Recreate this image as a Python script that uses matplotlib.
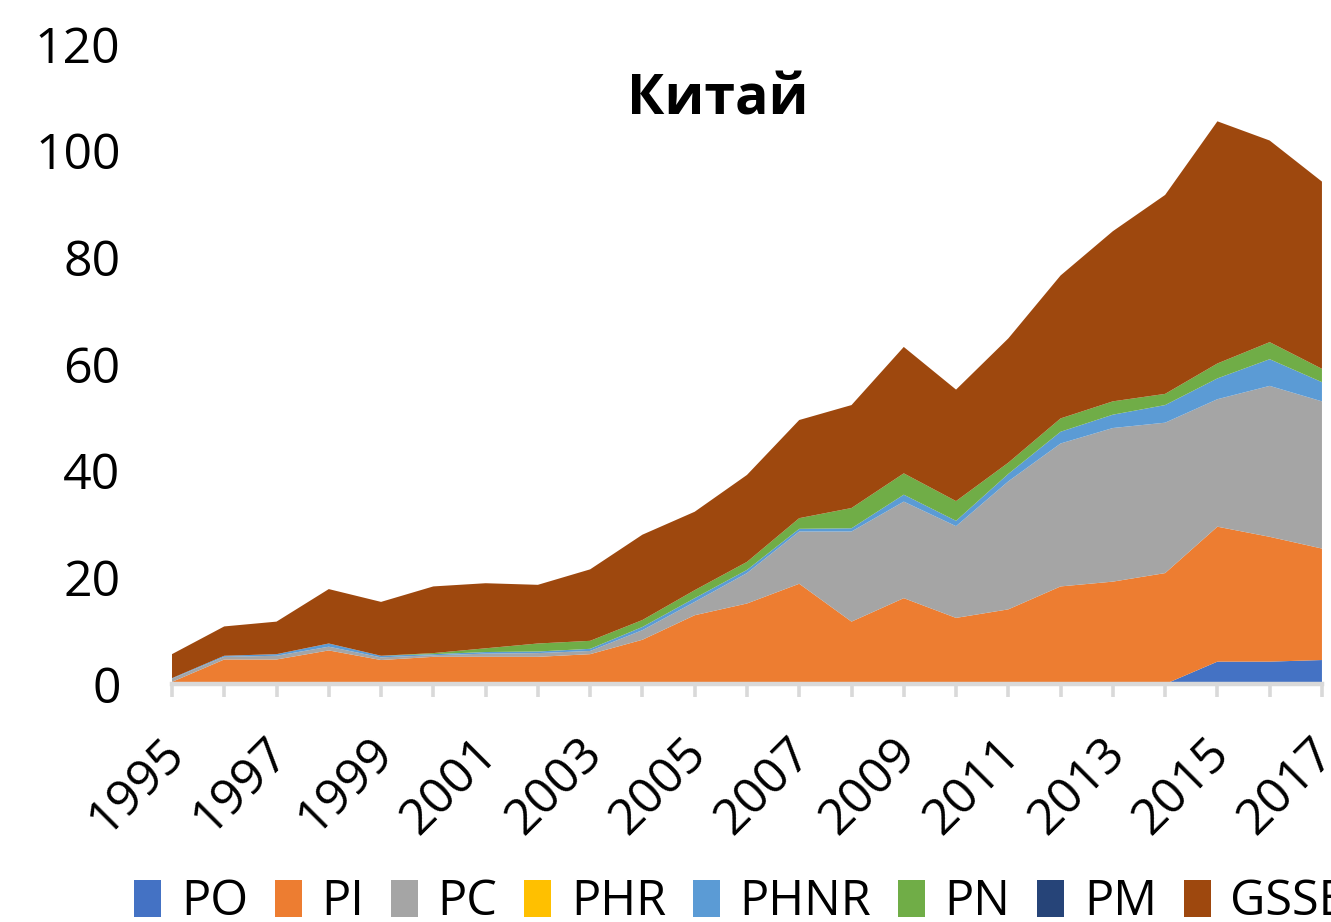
import matplotlib

matplotlib.use("Agg")
import matplotlib.pyplot as plt
import matplotlib.transforms as mtransforms
import numpy as np

plt.rcParams["font.family"] = ["Open Sans", "DejaVu Sans"]

YEARS = list(range(1995, 2018))
PO = [0, 0, 0, 0, 0, 0, 0, 0, 0, 0, 0, 0, 0, 0, 0, 0, 0, 0, 0, 0, 4.2, 4.2, 4.5]
PI = [0.4, 4.6, 4.6, 6.3, 4.5, 5.1, 5.1, 5.1, 5.6, 8.3, 12.9, 15.1, 18.8, 11.7,
      16.1, 12.4, 14.0, 18.3, 19.2, 20.8, 25.3, 23.4, 20.9]
PC = [0.6, 0.5, 0.7, 0.7, 0.5, 0.3, 0.6, 0.7, 0.6, 1.8, 2.5, 5.7, 9.8, 16.9,
      18.1, 17.2, 24.0, 26.8, 28.8, 28.2, 23.9, 28.3, 27.6]
PHR = [0] * 23
PHNR = [0.1, 0.2, 0.3, 0.6, 0.3, 0.2, 0.3, 0.3, 0.4, 0.6, 0.7, 0.6, 0.5, 0.6,
        1.3, 1.0, 1.4, 2.2, 2.5, 3.3, 3.9, 5.0, 3.6]
PN = [0, 0, 0, 0, 0, 0.2, 0.7, 1.5, 1.5, 1.3, 1.5, 1.5, 2.0, 3.8, 4.0, 3.7,
      2.1, 2.5, 2.5, 2.1, 2.8, 3.2, 2.5]
PM = [0] * 23
GSSE = [4.5, 5.5, 6.1, 10.2, 10.1, 12.5, 12.2, 11.0, 13.4, 16.0, 14.7, 16.3,
        18.4, 19.3, 23.7, 20.9, 23.3, 26.8, 31.9, 37.3, 45.4, 37.8, 35.1]

LABELS = ["PO", "PI", "PC", "PHR", "PHNR", "PN", "PM", "GSSE"]
COLORS = ["#4472C4", "#ED7D31", "#A5A5A5", "#FFC000", "#5B9BD5", "#70AD47",
          "#264478", "#9E480E"]

fig = plt.figure(figsize=(13.31, 9.22), dpi=100)
ax = fig.add_axes([0.1292, 0.2581, 0.9932 - 0.1292, 0.9523 - 0.2581])

ax.stackplot(YEARS, PO, PI, PC, PHR, PHNR, PN, PM, GSSE,
             colors=COLORS, labels=LABELS, linewidth=0)

ax.set_xlim(1995, 2017)
ax.set_ylim(0, 120)
ax.set_yticks(np.arange(0, 121, 20))
ax.tick_params(axis="y", length=0, pad=37, labelsize=36)

# every year gets a tick, only every second one a label
ax.set_xticks(YEARS)
ax.set_xticklabels([str(y) if (y - 1995) % 2 == 0 else "" for y in YEARS])
ax.tick_params(axis="x", length=9.5, width=2.6, color="#D9D9D9",
               labelsize=36, pad=35, direction="out")
shift = mtransforms.ScaledTranslation(5 / 100, 0, fig.dpi_scale_trans)
for lab in ax.get_xticklabels():
    lab.set_rotation(45)
    lab.set_ha("right")
    lab.set_va("center")
    lab.set_rotation_mode("anchor")
    lab.set_transform(lab.get_transform() + shift)

for s in ["top", "right", "left"]:
    ax.spines[s].set_visible(False)
ax.spines["bottom"].set_color("#D9D9D9")
ax.spines["bottom"].set_linewidth(3.2)
ax.spines["bottom"].set_zorder(5)

fig.text(0.5394, 0.8915, "Китай", ha="center", va="center",
         fontsize=40, fontweight="bold")

handles, labels = ax.get_legend_handles_labels()
fig.legend(handles, labels, loc="center", bbox_to_anchor=(0.556, 0.021),
           ncol=8, frameon=False, fontsize=35, handlelength=0.56,
           handleheight=0.8, handletextpad=0.4, columnspacing=0.55,
           borderaxespad=0)

fig.savefig("out.png", dpi=100)
